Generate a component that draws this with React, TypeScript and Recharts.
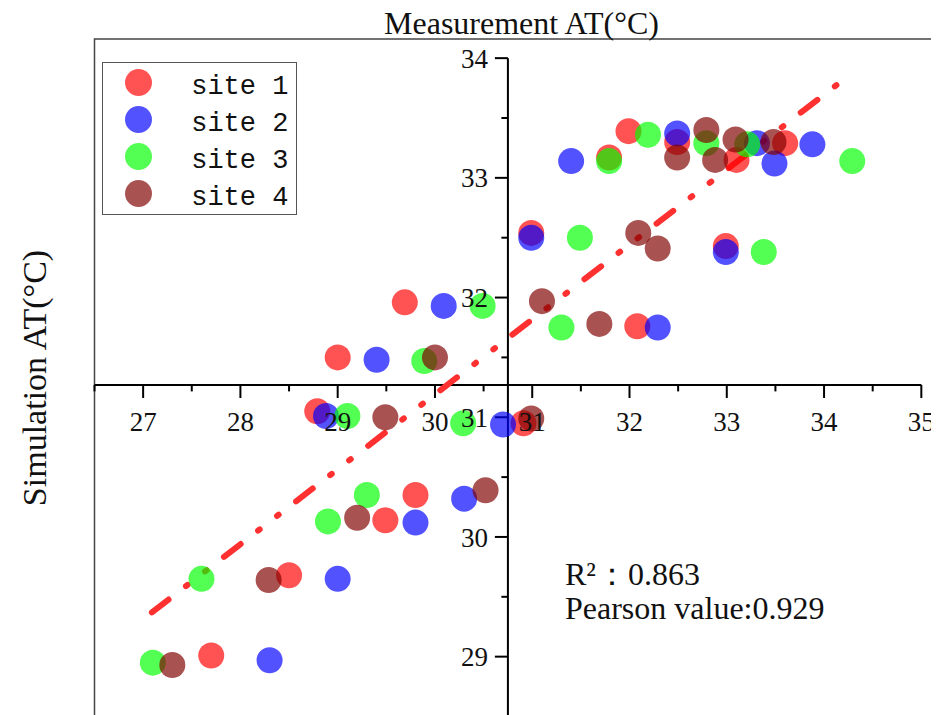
import { ScatterChart, Scatter, XAxis, YAxis, ReferenceLine, ReferenceArea, Legend } from 'recharts'

// values
const siteNames = ['site 1', 'site 2', 'site 3', 'site 4']
const siteColors = ['#ff0000', '#0000ff', '#00ff00', '#800000']

const site1X = [31.79, 31.99, 32.49, 33.1, 33.6, 30.99, 32.99, 29.69, 32.08, 29.0, 28.79, 30.91, 29.8, 29.49, 28.5, 27.7]
const site1Y = [33.17, 33.39, 33.3, 33.15, 33.29, 32.54, 32.43, 31.96, 31.76, 31.5, 31.05, 30.95, 30.35, 30.14, 29.68, 29.01]
const site2X = [31.4, 32.49, 33.31, 33.49, 33.88, 30.99, 32.99, 30.09, 32.29, 29.4, 28.88, 30.7, 30.3, 29.8, 29.0, 28.3]
const site2Y = [33.14, 33.37, 33.29, 33.12, 33.28, 32.5, 32.38, 31.93, 31.75, 31.48, 31.01, 30.94, 30.32, 30.12, 29.65, 28.97]
const site3X = [31.79, 32.19, 32.79, 33.21, 34.29, 31.49, 33.38, 30.49, 31.3, 29.89, 29.1, 30.29, 29.3, 28.9, 27.6, 27.1]
const site3Y = [33.14, 33.36, 33.29, 33.28, 33.14, 32.5, 32.38, 31.93, 31.75, 31.47, 31.01, 30.95, 30.35, 30.13, 29.65, 28.95]
const site4X = [32.49, 32.79, 32.88, 33.09, 33.48, 32.09, 32.29, 31.1, 31.69, 30.0, 29.49, 30.99, 30.52, 29.2, 28.29, 27.3]
const site4Y = [33.17, 33.4, 33.15, 33.32, 33.3, 32.54, 32.41, 31.97, 31.78, 31.5, 31.0, 30.99, 30.39, 30.16, 29.64, 28.93]

const fitX = [27.09, 34.2]
const fitY = [29.37, 33.82]

const xTicks = [27, 28, 29, 30, 31, 32, 33, 34, 35]
const xMinorTicks = [26.5, 27.5, 28.5, 29.5, 30.5, 31.5, 32.5, 33.5, 34.5]
const yTicks = [29, 30, 31, 32, 33, 34]
const yMinorTicks = [29.5, 30.5, 31.5, 32.5, 33.5]

const X_DOMAIN = [26.5, 35.12]
const Y_DOMAIN = [28.5, 34.16]
const X_CROSS = 30.75 // where the y axis sits
const Y_CROSS = 31.27 // where the x axis sits

const toPoints = (xs: number[], ys: number[]) => xs.map((x, i) => ({ x, y: ys[i] }))
const sites = [
  toPoints(site1X, site1Y),
  toPoints(site2X, site2Y),
  toPoints(site3X, site3Y),
  toPoints(site4X, site4Y),
]

const serif = '"Liberation Serif", "Times New Roman", serif'
const tickLabel = { fill: '#111', fontSize: 27, fontFamily: serif }

const renderLegend = (props: any) => {
  const payload = props.payload || []
  return (
    <div
      style={{
        position: 'relative',
        width: 195,
        height: 153,
        border: '1.5px solid #555',
        boxSizing: 'border-box',
        background: '#fff',
      }}
    >
      {payload.map((entry: any, i: number) => (
        <div key={entry.value}>
          <span
            style={{
              position: 'absolute',
              left: 22.5,
              top: 6 + i * 37,
              width: 27,
              height: 27,
              borderRadius: '50%',
              background: entry.color,
              opacity: 0.68,
            }}
          />
          <span
            style={{
              position: 'absolute',
              left: 88.5,
              top: 10.5 + i * 37,
              lineHeight: '27px',
              fontSize: 27,
              fontFamily: '"Liberation Mono", monospace',
              color: '#111',
              whiteSpace: 'pre',
            }}
          >
            {entry.value}
          </span>
        </div>
      ))}
    </div>
  )
}

export default function App() {
  return (
    <div style={{ position: 'relative', width: 931, height: 707 }}>
      <div style={{ position: 'absolute', left: 0, top: 0, width: 931, height: 707, overflow: 'hidden', background: '#fff' }}>
        <ScatterChart width={931} height={712} margin={{ top: 31, right: 6, bottom: 3.5, left: 86.5 }}>
          <XAxis type="number" dataKey="x" domain={X_DOMAIN} allowDataOverflow hide />
          <YAxis type="number" dataKey="y" domain={Y_DOMAIN} allowDataOverflow hide />

          <ReferenceArea
            x1={X_DOMAIN[0]}
            x2={X_DOMAIN[1]}
            y1={Y_DOMAIN[0]}
            y2={Y_DOMAIN[1]}
            fill="none"
            fillOpacity={0}
            stroke="#444"
            strokeWidth={1.5}
            ifOverflow="visible"
          />

          {/* crossing axes */}
          <ReferenceLine
            segment={[{ x: 26.5, y: Y_CROSS }, { x: 35, y: Y_CROSS }]}
            stroke="#000"
            strokeWidth={2}
            ifOverflow="visible"
          />
          <ReferenceLine
            segment={[{ x: X_CROSS, y: 34 }, { x: X_CROSS, y: 28.5 }]}
            stroke="#000"
            strokeWidth={2}
            ifOverflow="visible"
          />
          {xTicks.map((t) => (
            <ReferenceLine
              key={'xt' + t}
              segment={[{ x: t, y: Y_CROSS }, { x: t, y: Y_CROSS - 0.109 }]}
              stroke="#000"
              strokeWidth={2}
              ifOverflow="visible"
              label={{ value: String(t), position: 'bottom', offset: 14, ...tickLabel }}
            />
          ))}
          {xMinorTicks.map((t) => (
            <ReferenceLine
              key={'xm' + t}
              segment={[{ x: t, y: Y_CROSS }, { x: t, y: Y_CROSS - 0.054 }]}
              stroke="#000"
              strokeWidth={2}
              ifOverflow="visible"
            />
          ))}
          {yTicks.map((t) => (
            <ReferenceLine
              key={'yt' + t}
              segment={[{ x: X_CROSS - 0.134, y: t }, { x: X_CROSS, y: t }]}
              stroke="#000"
              strokeWidth={2}
              ifOverflow="visible"
              label={{ value: String(t), position: 'left', offset: 7, ...tickLabel }}
            />
          ))}
          {yMinorTicks.map((t) => (
            <ReferenceLine
              key={'ym' + t}
              segment={[{ x: X_CROSS - 0.067, y: t }, { x: X_CROSS, y: t }]}
              stroke="#000"
              strokeWidth={2}
              ifOverflow="visible"
            />
          ))}

          {sites.map((data, i) => (
            <Scatter
              key={siteNames[i]}
              name={siteNames[i]}
              data={data}
              fill={siteColors[i]}
              isAnimationActive={false}
              shape={(p: any) => <circle cx={p.cx} cy={p.cy} r={13} fill={siteColors[i]} fillOpacity={0.68} />}
            />
          ))}

          <ReferenceLine
            segment={[{ x: fitX[0], y: fitY[0] }, { x: fitX[1], y: fitY[1] }]}
            stroke="#ff3030"
            strokeWidth={6}
            strokeLinecap="round"
            strokeDasharray="21 22 2 22 2 22"
            ifOverflow="visible"
          />

          <Legend
            layout="horizontal"
            verticalAlign="middle"
            align="center"
            content={renderLegend}
            wrapperStyle={{ left: 93.7, top: 54.3, width: 195, height: 153 }}
          />
        </ScatterChart>
      </div>

      {/* titles and annotation, in page coordinates */}
      <svg
        width={939}
        height={715}
        style={{ position: 'absolute', left: -8, top: -8, pointerEvents: 'none', overflow: 'visible' }}
      >
        <text x={521.5} y={34} textAnchor="middle" fontSize={32} fontFamily={serif} fill="#111">
          Measurement AT(°C)
        </text>
        <text
          x={0}
          y={0}
          transform="translate(46 378) rotate(-90)"
          textAnchor="middle"
          fontSize={34}
          fontFamily={serif}
          fill="#111"
        >
          Simulation AT(°C)
        </text>
        <text x={565} y={585} fontSize={32} fontFamily={serif} fill="#111">
          R²：0.863
        </text>
        <text x={565} y={618.5} fontSize={32} fontFamily={serif} fill="#111">
          Pearson value:0.929
        </text>
      </svg>
    </div>
  )
}
